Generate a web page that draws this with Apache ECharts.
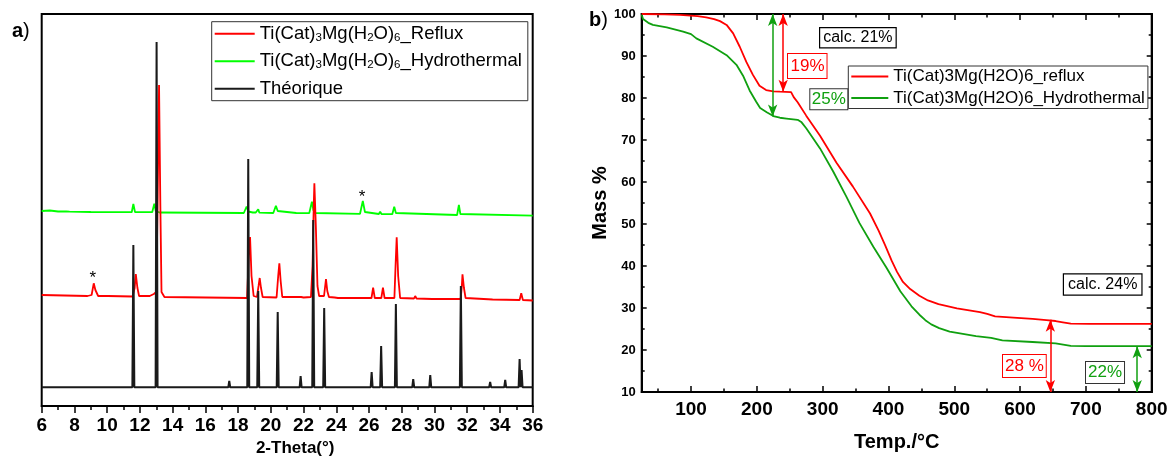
<!DOCTYPE html>
<html><head><meta charset="utf-8">
<script src="https://cdn.jsdelivr.net/npm/echarts@6/dist/echarts.min.js"></script>
<style>html,body{margin:0;padding:0;background:#fff}#c{width:1171px;height:464px}</style>
</head><body><div id="c"></div>
<script>
const FONT = '"Liberation Sans", Arial, Helvetica, sans-serif';

// ---------- (a) XRD data : [2theta, intensity (a.u., stacked offsets)] ----------
const xrdTicks = [6, 8, 10, 12, 14, 16, 18, 20, 22, 24, 26, 28, 30, 32, 34, 36];
const theoBaseline = 18.7;
const theoPeaks = [
  [11.60, 161], [13.02, 364], [17.46, 25], [18.62, 247], [19.23, 115], [20.42, 94],
  [21.82, 30], [22.59, 186], [23.26, 98], [26.16, 34], [26.74, 60], [27.64, 102],
  [28.70, 27], [29.48, 20.5], [29.74, 31], [31.61, 120], [32.73, 19.5], [33.40, 24],
  [34.32, 26], [35.20, 47], [35.32, 36]
];
const refluxXRD = [
  [6.0,111],[8.8,110],[9.05,111],[9.18,122.7],[9.28,116],[9.35,114],[9.45,110],[9.9,110],[9.97,112],[10.05,110],
  [11.55,109.5],[11.68,118],[11.75,132],[11.85,118],[11.95,110],[12.6,110],[12.85,112],[13.0,114],[13.08,200],
  [13.17,321],[13.25,200],[13.32,114],[13.5,109],[18.55,108],[18.65,150],[18.73,169],[18.82,130],[18.95,110],
  [19.15,109],[19.25,120],[19.32,128],[19.4,118],[19.5,109],[20.35,108.5],[20.45,130],[20.52,142.7],[20.6,125],
  [20.7,109],[21.85,109],[21.93,110.5],[22.0,108.5],[22.45,109],[22.55,140],[22.62,200],[22.66,222.7],[22.75,180],
  [22.85,120],[22.95,110],[23.25,110],[23.37,127],[23.45,115],[23.55,109],[23.9,108.5],[24.0,110.5],[24.1,108],
  [26.15,108],[26.25,118.3],[26.35,108],[26.75,108],[26.85,118.3],[26.95,108],[27.55,108],[27.62,140],[27.69,168.7],
  [27.78,130],[27.9,108],[28.75,107.5],[28.82,110],[28.9,107.5],[29.85,107],[29.9,109],[29.95,107],[31.6,107],
  [31.67,120],[31.71,131.7],[31.8,118],[31.9,108],[33.55,106.5],[33.6,108],[33.65,106.5],[35.2,106],[35.3,112.7],
  [35.4,106],[36,105.5]
];
const hydroXRD = [
  [6.0,195],[6.5,195.5],[7.0,194.5],[7.5,194.5],[7.6,195.5],[7.7,194.3],[9,194],[11.0,193.8],[11.5,193.8],[11.6,202],
  [11.7,194],[12.75,193.8],[12.88,202.3],[12.97,195],[13.05,194],[13.2,193.5],[18.35,193],[18.52,199.5],[18.62,194.5],
  [18.9,193.5],[19.0,195],[19.08,193.5],[19.18,193.6],[19.23,196.7],[19.3,193.3],[20.15,193],[20.31,200.3],[20.42,195],
  [20.5,193],[21.55,193],[21.66,194.5],[21.75,192.8],[22.35,193],[22.51,204.3],[22.6,196],[22.7,193],[25.45,192.2],
  [25.62,205],[25.75,194],[25.85,192],[26.6,192],[26.68,194.3],[26.76,192],[27.42,191.8],[27.54,199.3],[27.64,193],
  [27.75,191.6],[31.38,191],[31.49,201],[31.58,192],[31.7,190.8],[36,190.3]
];
const starMarks = [[9.13, 128], [25.57, 209]];

// ---------- (b) TGA data : [T (°C), mass %] ----------
const tgaMajorTicks = [100, 200, 300, 400, 500, 600, 700, 800];
const tgaMinorTicks = [50, 150, 250, 350, 450, 550, 650, 750];
const tgaReflux = [
  [25,100],[60,99.9],[83,99.8],[110,99.5],[123,99.2],[135,98.8],[144,98.3],[154,97.4],[164,95.4],[174,92.2],
  [184,88.6],[194,85.5],[204,82.9],[214,81.9],[225,81.6],[235,81.5],[252,81.4],[256,80.2],[262,79.0],[275,75.8],
  [296,71.0],[321,64.6],[346,58.9],[372,52.5],[385,48.4],[395,44.9],[405,41.2],[413,38.6],[422,36.2],[433,34.5],
  [447,32.9],[460,31.8],[476,30.9],[504,29.9],[539,29.0],[550,28.6],[562,28.0],[590,27.7],[619,27.4],[640,27.1],
  [654,26.9],[665,26.6],[677,26.3],[705,26.2],[800,26.2]
];
const tgaHydro = [
  [25,99.8],[27,98.8],[35,97.9],[42,97.4],[63,96.8],[88,95.8],[100,95.2],[108,94.2],[133,92.2],[154,90.2],
  [169,87.9],[179,85.3],[189,81.8],[199,79.1],[205,77.6],[215,76.6],[225,75.7],[235,75.3],[245,75.1],[262,74.8],
  [268,74.2],[275,72.8],[296,68.0],[316,62.5],[336,56.5],[356,50.2],[377,44.6],[397,39.6],[418,34.0],[435,30.4],
  [447,28.4],[456,27.1],[465,26.1],[477,25.2],[493,24.4],[533,23.3],[556,22.9],[573,22.3],[619,21.9],[654,21.6],
  [677,21.0],[700,20.9],[800,20.9]
];
// mass-loss arrows: [T, from %, to %]
const lossReflux = [[240, 100, 81.5], [646, 27.2, 10]];
const lossHydro = [[224, 100, 75.6], [778, 20.9, 10]];

const legendText = {
  xrd_reflux: 'Ti(Cat){s|3}Mg(H{s|2}O){s|6}_Reflux',
  xrd_hydro: 'Ti(Cat){s|3}Mg(H{s|2}O){s|6}_Hydrothermal',
  xrd_theo: 'Théorique',
  tga_reflux: 'Ti(Cat)3Mg(H2O)6_reflux',
  tga_hydro: 'Ti(Cat)3Mg(H2O)6_Hydrothermal'
};

// build theoretical stick pattern from peak list
const theoLine = [[6, theoBaseline]];
theoPeaks.forEach(([p, h]) => {
  theoLine.push([p - 0.06, theoBaseline], [p, h], [p + 0.06, theoBaseline]);
});
theoLine.push([36, theoBaseline]);

const RED = '#ff0000', LGREEN = '#00ff00', DGREEN = '#10a010', BLACK = '#1a1a1a';

function arrowLine(list) {
  return list.map(a => [{ coord: [a[0], a[1]] }, { coord: [a[0], a[2]] }]);
}

const chart = echarts.init(document.getElementById('c'), null, { renderer: 'canvas' });

const boldLabel = (size) => ({ fontFamily: FONT, fontWeight: 'bold', fontSize: size, color: '#000' });

const option = {
  animation: false,
  backgroundColor: '#fff',
  grid: [
    { left: 41.7, top: 14, width: 491, height: 392, show: true, borderColor: '#000', borderWidth: 2, backgroundColor: 'transparent' },
    { left: 641.7, top: 14, width: 510, height: 378, show: true, borderColor: '#000', borderWidth: 2, backgroundColor: 'transparent' },
    { left: 641.7, top: 14, width: 510, height: 378, show: false }
  ],
  xAxis: [
    { gridIndex: 0, type: 'value', min: 6, max: 36, interval: 2,
      axisLine: { show: true, lineStyle: { color: '#000', width: 2 } },
      axisTick: { show: true, inside: false, length: 7, lineStyle: { color: '#000', width: 1.5 } },
      minorTick: { show: true, splitNumber: 2, length: 4, lineStyle: { color: '#000', width: 1.5 } },
      axisLabel: Object.assign({ margin: 10 }, boldLabel(19)),
      splitLine: { show: false },
      name: '2-Theta(°)', nameLocation: 'middle', nameGap: 32,
      nameTextStyle: Object.assign({ padding: [0, 0, 0, 16] }, boldLabel(17)) },
    { gridIndex: 1, type: 'value', min: 25, max: 800, position: 'bottom',
      axisLine: { show: true, lineStyle: { color: '#000', width: 2 } },
      axisTick: { show: true, inside: true, length: 6, customValues: tgaMajorTicks, lineStyle: { color: '#000', width: 1.5 } },
      axisLabel: Object.assign({ margin: 8, customValues: tgaMajorTicks }, boldLabel(19)),
      splitLine: { show: false },
      name: 'Temp./°C', nameLocation: 'middle', nameGap: 40, nameTextStyle: boldLabel(20) },
    { gridIndex: 1, type: 'value', min: 25, max: 800, position: 'top',
      axisLine: { show: true, lineStyle: { color: '#000', width: 2 } },
      axisTick: { show: true, inside: true, length: 6, customValues: tgaMajorTicks, lineStyle: { color: '#000', width: 1.5 } },
      axisLabel: { show: false }, splitLine: { show: false } },
    { gridIndex: 2, type: 'value', min: 25, max: 800, position: 'bottom',
      axisLine: { show: false },
      axisTick: { show: true, inside: true, length: 3.5, customValues: tgaMinorTicks, lineStyle: { color: '#000', width: 1.5 } },
      axisLabel: { show: false }, splitLine: { show: false } },
    { gridIndex: 2, type: 'value', min: 25, max: 800, position: 'top',
      axisLine: { show: false },
      axisTick: { show: true, inside: true, length: 3.5, customValues: tgaMinorTicks, lineStyle: { color: '#000', width: 1.5 } },
      axisLabel: { show: false }, splitLine: { show: false } }
  ],
  yAxis: [
    { gridIndex: 0, type: 'value', min: 0, max: 392, show: false },
    { gridIndex: 1, type: 'value', min: 10, max: 100, interval: 10, position: 'left',
      axisLine: { show: true, lineStyle: { color: '#000', width: 2 } },
      axisTick: { show: true, inside: true, length: 5, lineStyle: { color: '#000', width: 1.5 } },
      minorTick: { show: true, splitNumber: 2, length: 3, lineStyle: { color: '#000', width: 1.5 } },
      axisLabel: Object.assign({ margin: 6 }, boldLabel(13)),
      splitLine: { show: false },
      name: 'Mass %', nameLocation: 'middle', nameGap: 30, nameTextStyle: boldLabel(20) },
    { gridIndex: 1, type: 'value', min: 10, max: 100, interval: 10, position: 'right',
      axisLine: { show: true, lineStyle: { color: '#000', width: 2 } },
      axisTick: { show: true, inside: true, length: 5, lineStyle: { color: '#000', width: 1.5 } },
      minorTick: { show: true, splitNumber: 2, length: 3, lineStyle: { color: '#000', width: 1.5 } },
      axisLabel: { show: false }, splitLine: { show: false } },
    { gridIndex: 2, type: 'value', min: 10, max: 100, show: false }
  ],
  legend: [
    { data: ['xrd_reflux', 'xrd_hydro', 'xrd_theo'], orient: 'vertical', left: 211.7, top: 21.7,
      padding: [2, 6, 2, 3], itemGap: 7.5, itemWidth: 40, itemHeight: 2, itemTextGap: 6, icon: 'rect',
      borderColor: '#333', borderWidth: 1, backgroundColor: '#fff', selectedMode: false,
      formatter: n => legendText[n],
      textStyle: { fontFamily: FONT, fontSize: 18.5, color: '#000', lineHeight: 20,
        rich: { s: { fontFamily: FONT, fontSize: 11.5, color: '#000', lineHeight: 11, verticalAlign: 'bottom' } } } },
    { data: ['tga_reflux', 'tga_hydro'], orient: 'vertical', left: 848.3, top: 66,
      padding: [1, 3, 1, 3], itemGap: 2.5, itemWidth: 37, itemHeight: 2, itemTextGap: 5, icon: 'rect',
      borderColor: '#333', borderWidth: 1, backgroundColor: '#fff', selectedMode: false,
      formatter: n => legendText[n],
      textStyle: { fontFamily: FONT, fontSize: 17, color: '#000', lineHeight: 19 } }
  ],
  series: [
    { name: 'xrd_hydro', type: 'line', xAxisIndex: 0, yAxisIndex: 0, data: hydroXRD, showSymbol: false,
      color: LGREEN, lineStyle: { color: LGREEN, width: 1.8 }, z: 2 },
    { name: 'xrd_reflux', type: 'line', xAxisIndex: 0, yAxisIndex: 0, data: refluxXRD, showSymbol: false,
      color: RED, lineStyle: { color: RED, width: 1.8 }, z: 3,
      markPoint: { symbol: 'circle', symbolSize: 1, itemStyle: { color: 'rgba(0,0,0,0)' }, silent: true,
        label: { show: true, position: 'inside', formatter: '*', fontFamily: FONT, fontSize: 17, color: '#000' },
        data: starMarks.map(s => ({ coord: s })) } },
    { name: 'xrd_theo', type: 'line', xAxisIndex: 0, yAxisIndex: 0, data: theoLine, showSymbol: false,
      color: BLACK, lineStyle: { color: BLACK, width: 2 }, z: 4 },
    { name: 'tga_reflux', type: 'line', xAxisIndex: 1, yAxisIndex: 1, data: tgaReflux, showSymbol: false,
      smooth: false, color: RED, lineStyle: { color: RED, width: 1.8, join: 'round' }, z: 3,
      markLine: { silent: true, symbol: ['arrow', 'arrow'], symbolSize: [7, 12], label: { show: false },
        lineStyle: { color: RED, width: 1.5, type: 'solid' }, data: arrowLine(lossReflux) } },
    { name: 'tga_hydro', type: 'line', xAxisIndex: 1, yAxisIndex: 1, data: tgaHydro, showSymbol: false,
      smooth: false, color: DGREEN, lineStyle: { color: DGREEN, width: 1.8, join: 'round' }, z: 3,
      markLine: { silent: true, symbol: ['arrow', 'arrow'], symbolSize: [7, 12], label: { show: false },
        lineStyle: { color: DGREEN, width: 1.5, type: 'solid' }, data: arrowLine(lossHydro) } }
  ],
  graphic: [
    { type: 'text', left: 12, top: 21, z: 10, style: { text: '{b|a})', fill: '#000',
      font: '20px ' + FONT, rich: { b: { fontWeight: 'bold', fontSize: 20, fontFamily: FONT } } } },
    { type: 'text', left: 589, top: 10, z: 10, style: { text: '{b|b})', fill: '#000',
      font: '20px ' + FONT, rich: { b: { fontWeight: 'bold', fontSize: 20, fontFamily: FONT } } } },
    { type: 'text', left: 819, top: 27, z: 10, style: { text: 'calc. 21%', fill: '#000', font: '16px ' + FONT,
      backgroundColor: '#fff', borderColor: '#000', borderWidth: 1.2, padding: [1, 3, 1, 3], lineHeight: 17 } },
    { type: 'text', left: 787, top: 53, z: 10, style: { text: '19%', fill: RED, font: '17px ' + FONT,
      backgroundColor: '#fff', borderColor: RED, borderWidth: 1, padding: [2, 2, 2, 2.5], lineHeight: 20 } },
    { type: 'text', left: 809.3, top: 88.3, z: 10, style: { text: '25%', fill: DGREEN, font: '17px ' + FONT,
      backgroundColor: '#fff', borderColor: '#333', borderWidth: 1, padding: [1, 1.5, 1, 1.5], lineHeight: 18 } },
    { type: 'text', left: 1062.8, top: 273.3, z: 10, style: { text: 'calc. 24%', fill: '#000', font: '16px ' + FONT,
      backgroundColor: '#fff', borderColor: '#000', borderWidth: 1.2, padding: [1, 4, 1, 4], lineHeight: 18 } },
    { type: 'text', left: 1002, top: 354, z: 10, style: { text: '28 %', fill: RED, font: '17px ' + FONT,
      backgroundColor: '#fff', borderColor: RED, borderWidth: 1, padding: [1, 2, 1, 2], lineHeight: 20 } },
    { type: 'text', left: 1085, top: 361, z: 10, style: { text: '22%', fill: DGREEN, font: '17px ' + FONT,
      backgroundColor: '#fff', borderColor: '#333', borderWidth: 1, padding: [1, 2, 1, 2], lineHeight: 19 } }
  ]
};
chart.setOption(option);
</script>
</body></html>
